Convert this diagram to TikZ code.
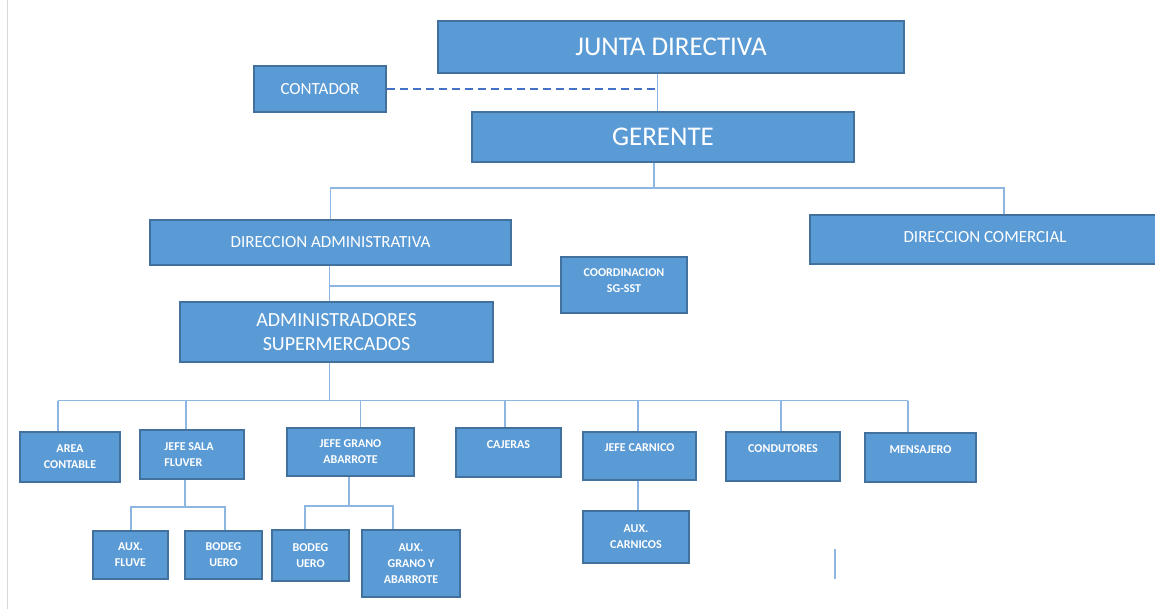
\documentclass[tikz,border=0pt]{standalone}
\usepackage{fontspec}
\setmainfont{Carlito}
\usetikzlibrary{calc}
\definecolor{boxfill}{HTML}{5B9BD5}
\definecolor{boxdraw}{HTML}{41719C}
\definecolor{connc}{HTML}{8DB6E3}
\definecolor{dashc}{HTML}{4472C4}
\begin{document}
\begin{tikzpicture}[x=1pt,y=-1pt,
  box/.style={draw=boxdraw, fill=boxfill, line width=1.6pt, text=white, inner sep=0pt, align=center},
  big/.style={font=\fontsize{27}{31}\selectfont},
  mid/.style={font=\fontsize{17}{21}\selectfont},
  mida/.style={font=\fontsize{20}{24}\selectfont},
  sml/.style={font=\bfseries\fontsize{12}{16}\selectfont},
  conn/.style={draw=connc, line width=1.3pt},
  dashconn/.style={draw=dashc, line width=2.6pt, dash pattern=on 8pt off 5pt},
]
\useasboundingbox (0,0) rectangle (1155,609);
\draw[black!15, line width=1pt] (7,0) -- (7,609);

% top level
\node[box,big,minimum width=466pt,minimum height=52pt] (jd) at (671,47) {JUNTA DIRECTIVA};
\node[box,mid,minimum width=132pt,minimum height=46pt] (cont) at (320,89) {CONTADOR};
\node[box,big,minimum width=382pt,minimum height=50pt] (ger) at (663,137) {GERENTE};
\node[box,mid,minimum width=361pt,minimum height=45pt] (da) at (330.5,242.5) {DIRECCION ADMINISTRATIVA};
\node[box,mid,minimum width=350pt,minimum height=49pt] (dc) at (985,239.5) {\raisebox{6pt}{DIRECCION COMERCIAL}};
\node[box,sml,minimum width=126pt,minimum height=56pt] (coord) at (624,285) {COORDINACION\\SG-SST\\[-8pt]\mbox{}};
\node[box,mida,minimum width=313pt,minimum height=60pt] (as) at (336.5,332) {ADMINISTRADORES\\SUPERMERCADOS};

% third level
\node[box,sml,minimum width=100pt,minimum height=50pt] (ac) at (70,457) {AREA\\CONTABLE};
\node[box,sml,minimum width=104pt,minimum height=49pt,align=left] (js) at (192,454.5) {\hspace*{-6pt}JEFE SALA\\\hspace*{-6pt}FLUVER};
\node[box,sml,minimum width=127pt,minimum height=48pt] (jg) at (350.5,452) {JEFE GRANO\\ABARROTE};
\node[box,sml,minimum width=105pt,minimum height=49pt] (caj) at (508.5,452.5) {CAJERAS\\\mbox{}};
\node[box,sml,minimum width=113pt,minimum height=48pt] (jc) at (639.5,456) {JEFE CARNICO\\\mbox{}};
\node[box,sml,minimum width=114pt,minimum height=49pt] (con) at (783,456.5) {CONDUTORES\\\mbox{}};
\node[box,sml,minimum width=111pt,minimum height=49pt] (men) at (920.5,457.5) {MENSAJERO\\\mbox{}};

% fourth level
\node[box,sml,minimum width=75pt,minimum height=48pt] (af) at (130.5,555) {AUX.\\FLUVE};
\node[box,sml,minimum width=77pt,minimum height=48pt] (bo1) at (223.5,555) {BODEG\\UERO};
\node[box,sml,minimum width=77pt,minimum height=51pt] (bo2) at (310.5,555.5) {BODEG\\UERO};
\node[box,sml,minimum width=98pt,minimum height=67pt] (ag) at (411,563.5) {AUX.\\GRANO Y\\ABARROTE};
\node[box,sml,minimum width=106pt,minimum height=52pt] (acar) at (636,537) {AUX.\\CARNICOS};

% connectors top
\coordinate (jdx) at (657.5,0);
\draw[conn] (jdx |- jd.south) -- (jdx |- ger.north);
\draw[dashconn] (cont.east) -- (cont.east -| jdx);
\coordinate (gb) at (654,188);
\coordinate (dcx) at (1004,0);
\draw[conn] (gb |- ger.south) -- (gb);
\draw[conn] (da.north) |- (gb) -| (dcx |- dc.north);

% DA -> AS, coordination
\coordinate (ax) at (329.5,0);
\draw[conn] (ax |- da.south) -- (ax |- as.north);
\draw[conn] (coord.west |- 0,286) -- (ax |- 0,286);

% AS -> third level
\coordinate (sb) at (329.5,400.5);
\draw[conn] (ax |- as.south) -- (sb);
\coordinate (s1) at (58,400.5);
\coordinate (s2) at (186,400.5);
\coordinate (s3) at (360.5,400.5);
\coordinate (s4) at (505,400.5);
\coordinate (s5) at (638,400.5);
\coordinate (s6) at (781,400.5);
\coordinate (s7) at (908,400.5);
\draw[conn] (s1) -- (s7);
\draw[conn] (s1) -- (s1 |- ac.north);
\draw[conn] (s2) -- (s2 |- js.north);
\draw[conn] (s3) -- (s3 |- jg.north);
\draw[conn] (s4) -- (s4 |- caj.north);
\draw[conn] (s5) -- (s5 |- jc.north);
\draw[conn] (s6) -- (s6 |- con.north);
\draw[conn] (s7) -- (s7 |- men.north);

% JEFE SALA -> children
\coordinate (t1) at (185,507);
\coordinate (t1a) at (131,507);
\coordinate (t1b) at (225,507);
\draw[conn] (t1 |- js.south) -- (t1);
\draw[conn] (t1a |- af.north) -- (t1a) -- (t1b) -- (t1b |- bo1.north);

% JEFE GRANO -> children
\coordinate (t2) at (349,506);
\coordinate (t2a) at (305,506);
\coordinate (t2b) at (393,506);
\draw[conn] (t2 |- jg.south) -- (t2);
\draw[conn] (t2a |- bo2.north) -- (t2a) -- (t2b) -- (t2b |- ag.north);

% JEFE CARNICO -> AUX CARNICOS
\coordinate (t3) at (638,0);
\draw[conn] (t3 |- jc.south) -- (t3 |- acar.north);

% stray mark
\draw[conn] (835,549) -- (835,579);
\end{tikzpicture}
\end{document}
